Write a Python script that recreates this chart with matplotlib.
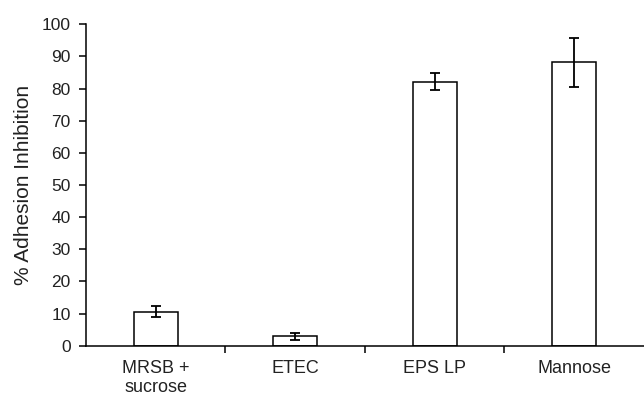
import numpy as np
import matplotlib.pyplot as plt

plt.rcParams['font.family'] = ['Liberation Sans', 'DejaVu Sans']

categories = ['MRSB +\nsucrose', 'ETEC', 'EPS LP', 'Mannose']
inhibition = [10.6, 3.0, 82.2, 88.2]
errors = [1.7, 1.1, 2.5, 7.6]

fig = plt.figure(figsize=(6.44, 3.98), dpi=100)
ax = fig.add_axes([0.1335, 0.1314, 0.8665, 0.8075])

x = np.arange(len(categories))
ax.bar(x, inhibition, width=0.315, color='white', edgecolor='black', linewidth=1.1,
       yerr=errors, error_kw=dict(ecolor='black', elinewidth=1.3, capsize=3.5, capthick=1.3))

ax.set_xlim(-0.5, len(categories) - 0.5)
ax.set_ylim(0, 100)
ax.set_yticks(np.arange(0, 101, 10))
ax.set_xticks(x)
ax.set_xticklabels(categories, fontsize=13, color='#222222', linespacing=1.15)
ax.set_xticks(np.arange(0.5, len(categories) - 1, 1), minor=True)
ax.tick_params(axis='x', which='major', length=0, pad=10)
ax.tick_params(axis='x', which='minor', length=5, width=1.1, direction='out')
ax.tick_params(axis='y', length=5, width=1.1, direction='out', pad=6,
               labelsize=12.5, labelcolor='#222222')
ax.set_ylabel('% Adhesion Inhibition', fontsize=15, color='#222222', labelpad=6)

for side in ['top', 'right']:
    ax.spines[side].set_visible(False)
for side in ['left', 'bottom']:
    ax.spines[side].set_linewidth(1.1)

fig.savefig('out.png', dpi=100)
